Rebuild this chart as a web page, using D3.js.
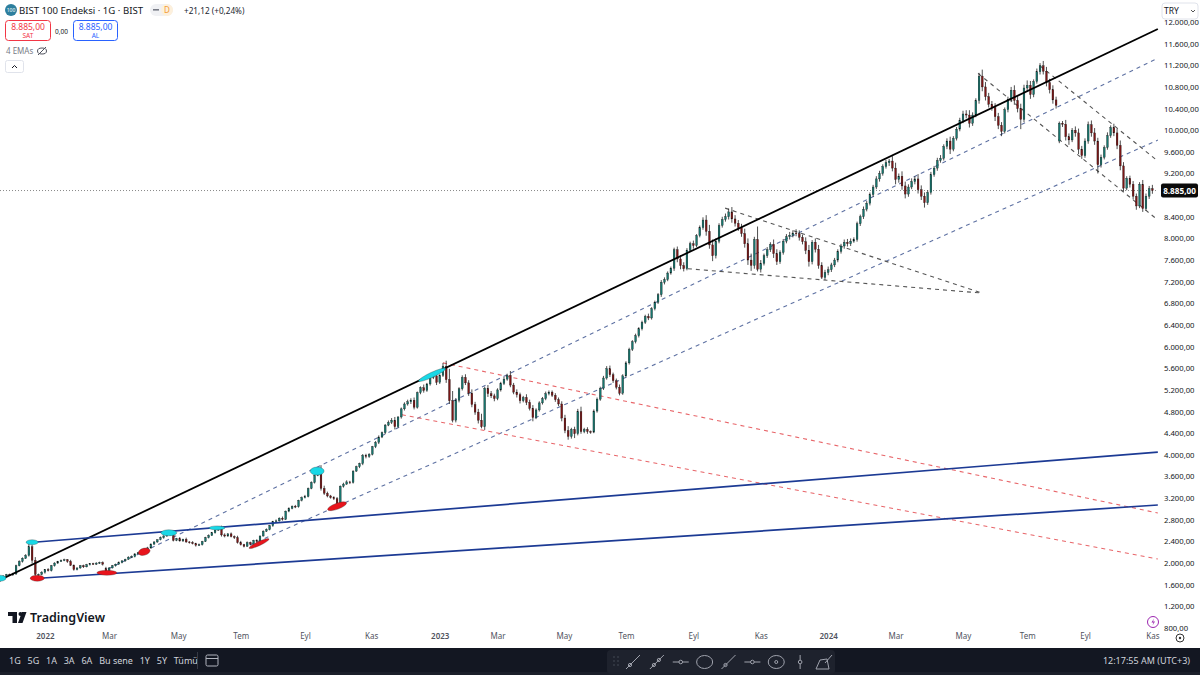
<!DOCTYPE html>
<meta charset="utf-8">
<head>
  <title>BIST 100 Endeksi</title>
  <script src="https://cdn.jsdelivr.net/npm/d3@7"></script>
</head>

<style>
body { margin: 0; background: #fff; }
svg { display: block; font-family: "Noto Sans", sans-serif; }
.axis text { font-size: 7.7px; fill: #131722; font-family: "Noto Sans", sans-serif; }
.axis path, .axis line { display: none; }
.dark { fill: #d1d4dc; font-size: 9px; }
</style>

<body>
<svg width="1200" height="675"></svg>

<script>
// one bar every 3 sessions or so
var closes = [
1700,1760,1790,1780,1800,1950,2030,2090,2140,2300,2050,1790,1790,1830,1880,1860,1950,2000,2030,2050,
2060,2030,1960,1880,1910,1950,1930,1970,1990,1980,2000,2010,1980,1840,1910,1950,1980,2010,2040,2070,
2110,2120,2170,2190,2230,2260,2280,2350,2390,2430,2470,2500,2550,2530,2420,2450,2410,2440,2390,2380,
2360,2330,2340,2400,2470,2510,2560,2610,2630,2520,2500,2540,2490,2470,2380,2340,2310,2380,2350,2420,
2400,2500,2590,2620,2690,2770,2780,2830,2810,2960,3010,3050,3040,3160,3210,3230,3380,3490,3620,3680,
3380,3290,3240,3210,3190,3090,3420,3460,3500,3490,3700,3780,3840,3990,3970,4010,4150,4230,4330,4410,
4550,4600,4640,4520,4700,4850,4940,4980,5010,4880,5150,5240,5190,5310,5430,5460,5340,5470,5640,5390,
5000,4640,5010,5220,5430,5330,5140,4930,4790,4640,4520,5230,5130,5090,5040,5200,5320,5400,5470,5290,
5160,5110,5000,5060,4970,4860,4690,4830,4960,5040,5130,5160,5100,5020,4940,4680,4450,4340,4470,4390,
4800,4430,4470,4430,4420,4810,5030,5230,5420,5590,5480,5370,5250,5140,5460,5700,5950,6090,6200,6330,
6450,6560,6530,6700,6820,6960,7190,7240,7360,7450,7790,7620,7500,7440,7780,7900,7870,8050,8200,8340,
8130,7880,7680,7950,8240,8350,8400,8490,8360,8280,8200,8090,7900,7600,7500,7980,7430,7540,7680,7790,
7890,7720,7570,7740,7950,8030,8060,8100,8090,8020,7940,7780,7570,7930,7800,7500,7280,7370,7420,7510,
7600,7760,7860,7930,7900,7950,7980,8270,8400,8540,8650,8810,8950,9100,9200,9330,9400,9430,9300,9090,
9150,8970,8820,8950,9050,9100,8900,8780,8660,8850,9180,9300,9440,9480,9700,9800,9650,9850,10020,10180,
10300,10280,10130,10280,10550,11000,10800,10620,10480,10420,10250,10090,9980,10380,10570,10740,10550,10400,10200,10780,
10830,10660,10900,11080,11190,11090,10880,10750,10560,10460,10130,10110,9880,9820,10000,9950,9650,9530,9800,10100,
9950,9800,9360,9500,9680,9900,10050,9950,9720,9340,8930,9110,9000,8780,8600,9000,8550,8780,8920,8885
];

var upperWicks = [
20,15,10,15,20,20,20,15,25,90,40,60,15,20,10,25,15,15,10,15,
20,15,30,15,10,15,20,15,10,15,15,15,20,30,15,15,10,20,15,10,
15,20,10,15,15,10,20,15,15,10,20,15,30,20,60,15,30,10,30,15,
25,15,20,10,15,20,15,10,40,60,30,15,25,20,35,30,15,20,15,10,
20,10,15,20,15,10,25,15,30,10,20,15,25,10,20,30,15,20,15,40,
130,50,30,20,25,30,15,25,30,20,15,20,15,25,30,20,15,25,30,20,
20,35,40,60,15,25,30,40,35,50,20,25,60,20,30,35,50,20,60,100,
200,180,40,30,40,60,50,70,50,60,120,30,60,50,40,30,30,40,30,80,
40,50,40,30,60,50,60,30,30,30,40,30,30,40,40,50,60,80,30,50,
50,90,30,40,20,30,30,30,40,50,60,40,40,50,30,30,30,30,40,30,
30,30,50,30,30,30,40,40,30,30,40,60,70,60,40,40,60,30,40,50,
90,120,100,50,40,50,60,60,90,70,60,70,90,100,120,50,240,60,40,50,
40,90,80,40,40,50,60,50,70,60,50,80,100,40,70,80,60,50,60,40,
40,40,40,50,60,50,40,40,40,50,40,40,40,50,50,40,50,40,90,100,
50,90,80,50,60,50,90,80,70,40,50,40,50,60,40,50,80,40,40,50,
60,70,90,50,40,60,120,90,70,60,80,70,60,40,50,60,90,80,90,60,
90,80,40,60,50,90,80,70,80,60,30,40,80,60,40,70,80,60,50,60,
80,90,60,50,40,60,40,70,80,90,70,40,50,60,50,40,80,50,50,70
];

var lowerWicks = [
30,15,20,15,15,20,10,20,15,20,60,90,30,15,25,15,15,15,15,10,
15,25,15,20,15,15,20,10,15,15,15,15,25,40,15,10,15,10,15,15,
10,15,15,10,20,15,10,15,10,15,10,20,15,25,20,15,15,20,15,20,
15,25,15,15,10,15,10,15,15,30,25,15,15,25,20,15,20,10,20,15,
30,15,10,15,15,20,10,15,25,15,20,15,25,15,20,15,15,15,20,15,
40,30,25,20,25,50,20,25,15,30,20,15,25,30,35,25,20,25,30,20,
30,20,30,50,20,30,30,30,40,40,25,30,40,25,30,30,50,30,30,60,
60,40,40,40,30,40,50,50,50,60,30,60,60,40,50,30,30,30,30,40,
40,50,50,30,50,40,70,30,30,30,30,30,30,40,40,60,50,60,40,80,
30,40,30,40,30,20,30,30,30,30,40,40,40,40,30,30,30,30,30,30,
30,30,40,30,30,30,40,40,30,30,50,60,70,50,30,30,60,30,30,40,
80,70,100,50,40,40,40,50,70,60,60,60,70,90,100,60,40,60,40,40,
40,80,60,40,40,40,50,40,50,60,50,70,90,50,60,60,30,50,50,40,
40,40,40,50,50,40,30,40,40,40,40,40,40,40,50,40,40,60,60,90,
60,70,80,50,40,50,70,70,90,40,40,40,50,40,40,50,90,40,40,40,
50,60,80,50,40,60,80,70,60,60,80,70,90,40,50,50,80,70,180,50,
70,80,50,40,50,60,70,70,70,60,40,50,70,90,40,70,90,60,40,50,
70,70,160,50,40,40,40,60,70,80,60,40,60,60,70,40,60,40,50,60
];

// bars that open away from the previous close
var gapBars = [33, 330];
var gapOpens = [1900, 9800];

var monthBars = [14,34,55.5,75,95,115.6,137,155,175.7,195,216,237,258,279,300,320,338,359];
var monthLabels = ["2022","Mar","May","Tem","Eyl","Kas","2023","Mar","May","Tem","Eyl","Kas","2024","Mar","May","Tem","Eyl","Kas"];
var yearLabels = ["2022","2023","2024"];

// 8.800,00 sits behind the last price tag in the picture
var priceTicks = d3.range(800, 12001, 400).filter(function(p) { return p != 8800; });
var lastPrice = 8885;

// trend lines: bar, price, bar, price
var blackLine = [[0,1687,360.7,11870]];
var navyLines = [[11.5,2389,360.7,4052],[13.4,1724,360.7,3073]];
var blueDashed = [[33.6,1890,360.7,11330],[77.9,2334,360.7,9818]];
var redDashed = [[138,5700,360.7,2925],[125.2,4740,360.7,2075]];
var greyDashed = [[225.9,8560,305.9,6990],[214.3,7440,305.9,6990],[304.7,11050,360.7,8340],[324,11190,360.7,9430]];

var cyanMarks = [[0,1720,6,3,0],[10,2385,6,2.5,0],[52.6,2560,8,3,0],[67.6,2650,8,2,0],[98.8,3700,7,4,0],[134.6,5480,15,2.5,-25]];
var redMarks = [[11.6,1720,7,3,0],[33.3,1820,10,2.5,0],[44.9,2210,6,3.5,-15],[80.7,2360,11,2,-25],[105,3050,10,3,-20]];

var rangeButtons = ["1G","5G","1A","3A","6A","Bu sene","1Y","5Y","Tümü"];

var svg = d3.select("svg");
var x = d3.scaleLinear().domain([0, 360]).range([0, 1155.6]);
var y = d3.scaleLinear().domain([800, 12000]).range([628, 22]);

var tr = d3.formatLocale({ decimal: ",", thousands: ".", grouping: [3], currency: ["", ""] });
var fmt = tr.format(",.2f");

var bars = closes.map(function(c, i) {
  var g = gapBars.indexOf(i);
  var o = g >= 0 ? gapOpens[g] : (i == 0 ? c - 20 : closes[i - 1]);
  return {
    i: i, open: o, close: c,
    high: Math.max(o, c) + upperWicks[i],
    low: Math.min(o, c) - lowerWicks[i]
  };
});

// last price dotted line
svg.append("line")
  .attr("x1", 0).attr("x2", 1158)
  .attr("y1", y(lastPrice)).attr("y2", y(lastPrice))
  .attr("stroke", "#555").attr("stroke-width", 0.7).attr("stroke-dasharray", "1 2");

function drawLines(list, color, width, dash) {
  svg.append("g").selectAll("line").data(list).enter().append("line")
    .attr("x1", function(d) { return x(d[0]); })
    .attr("y1", function(d) { return y(d[1]); })
    .attr("x2", function(d) { return x(d[2]); })
    .attr("y2", function(d) { return y(d[3]); })
    .attr("stroke", color)
    .attr("stroke-width", width)
    .attr("stroke-dasharray", dash);
}

drawLines(blueDashed, "#5f72a3", 1.1, "4 4");
drawLines(redDashed, "#e8666a", 1.1, "4 4");
drawLines(greyDashed, "#555", 1.1, "4 4");

// candles
var candle = svg.append("g").selectAll("g").data(bars).enter().append("g");
candle.append("line")
  .attr("x1", function(d) { return x(d.i); })
  .attr("x2", function(d) { return x(d.i); })
  .attr("y1", function(d) { return y(d.high); })
  .attr("y2", function(d) { return y(d.low); })
  .attr("stroke", "#222").attr("stroke-width", 0.8);
candle.append("rect")
  .attr("x", function(d) { return x(d.i) - 0.9; })
  .attr("width", 1.8)
  .attr("y", function(d) { return y(Math.max(d.open, d.close)); })
  .attr("height", function(d) { return Math.max(0.8, Math.abs(y(d.open) - y(d.close))); })
  .attr("fill", function(d) { return d.close >= d.open ? "#17766e" : "#7a1616"; })
  .attr("stroke", "#111").attr("stroke-width", 0.3);

drawLines(blackLine, "#000", 1.8, null);
drawLines(navyLines, "#1c3a94", 1.7, null);

function drawMarks(list, color) {
  svg.append("g").selectAll("ellipse").data(list).enter().append("ellipse")
    .attr("rx", function(d) { return d[2]; })
    .attr("ry", function(d) { return d[3]; })
    .attr("transform", function(d) { return "translate(" + x(d[0]) + "," + y(d[1]) + ") rotate(" + d[4] + ")"; })
    .attr("fill", color).attr("stroke", "#333").attr("stroke-width", 0.3);
}
drawMarks(cyanMarks, "#19d8e6");
drawMarks(redMarks, "#e8141c");

// axes
svg.append("g").attr("class", "axis")
  .attr("transform", "translate(1158,0)")
  .call(d3.axisRight(y).tickValues(priceTicks).tickSize(0).tickPadding(6).tickFormat(fmt));

var xAxis = svg.append("g").attr("class", "axis")
  .attr("transform", "translate(0,633)")
  .call(d3.axisBottom(x).tickValues(monthBars).tickSize(0).tickPadding(0)
    .tickFormat(function(d, i) { return monthLabels[i]; }));
xAxis.selectAll("text")
  .style("font-size", "8px")
  .style("fill", "#50535e")
  .style("font-weight", function(d, i) { return yearLabels.indexOf(monthLabels[i]) >= 0 ? 600 : 400; });

// last price tag
svg.append("rect").attr("x", 1161).attr("y", y(lastPrice) - 7).attr("width", 37).attr("height", 14)
  .attr("rx", 2).attr("fill", "#0a0a0a");
svg.append("text").attr("x", 1179.5).attr("y", y(lastPrice) + 3).attr("text-anchor", "middle")
  .attr("font-size", 8.2).attr("font-weight", 700).attr("fill", "#fff").text(fmt(lastPrice));

// currency button
svg.append("rect").attr("x", 1162).attr("y", 3).attr("width", 36).attr("height", 16).attr("rx", 3)
  .attr("fill", "#fff").attr("stroke", "#e0e3eb");
svg.append("text").attr("x", 1164).attr("y", 14).attr("font-size", 8.5).attr("fill", "#131722").text("TRY");
svg.append("path").attr("d", "M1191 10l2 2 2-2").attr("fill", "none").attr("stroke", "#555");

// header
svg.append("circle").attr("cx", 11).attr("cy", 10).attr("r", 6).attr("fill", "#2d7f9e");
svg.append("text").attr("x", 11).attr("y", 12).attr("text-anchor", "middle").attr("font-size", 5).attr("fill", "#fff").text("100");
svg.append("text").attr("x", 19).attr("y", 14).attr("font-size", 9.6).attr("fill", "#131722").text("BIST 100 Endeksi · 1G · BIST");
svg.append("rect").attr("x", 150).attr("y", 4).attr("width", 23).attr("height", 12).attr("rx", 6).attr("fill", "#f0f1f4");
svg.append("rect").attr("x", 153).attr("y", 9).attr("width", 6).attr("height", 1.6).attr("fill", "#787b86");
svg.append("circle").attr("cx", 167).attr("cy", 10).attr("r", 6).attr("fill", "#fdf0dc");
svg.append("text").attr("x", 167).attr("y", 13).attr("text-anchor", "middle").attr("font-size", 8).attr("fill", "#f29d38").text("D");
svg.append("text").attr("x", 184).attr("y", 13.5).attr("font-size", 8.2).attr("fill", "#22262f").text("+21,12 (+0,24%)");

svg.append("rect").attr("x", 5.5).attr("y", 20.5).attr("width", 45).attr("height", 20).attr("rx", 3)
  .attr("fill", "#fff").attr("stroke", "#f23645");
svg.append("text").attr("x", 28).attr("y", 30).attr("text-anchor", "middle").attr("font-size", 8.5).attr("fill", "#f23645").text("8.885,00");
svg.append("text").attr("x", 28).attr("y", 38).attr("text-anchor", "middle").attr("font-size", 6.5).attr("fill", "#f23645").text("SAT");
svg.append("text").attr("x", 61.5).attr("y", 33.5).attr("text-anchor", "middle").attr("font-size", 6.5).attr("fill", "#131722").text("0,00");
svg.append("rect").attr("x", 73.5).attr("y", 20.5).attr("width", 44).attr("height", 20).attr("rx", 3)
  .attr("fill", "#fff").attr("stroke", "#2962ff");
svg.append("text").attr("x", 95.5).attr("y", 30).attr("text-anchor", "middle").attr("font-size", 8.5).attr("fill", "#2962ff").text("8.885,00");
svg.append("text").attr("x", 95.5).attr("y", 38).attr("text-anchor", "middle").attr("font-size", 6.5).attr("fill", "#2962ff").text("AL");

svg.append("text").attr("x", 6).attr("y", 54).attr("font-size", 8).attr("fill", "#787b86").text("4 EMAs");
svg.append("ellipse").attr("cx", 42).attr("cy", 51).attr("rx", 4.5).attr("ry", 3)
  .attr("fill", "none").attr("stroke", "#50535e");
svg.append("line").attr("x1", 38).attr("y1", 55).attr("x2", 46).attr("y2", 47).attr("stroke", "#50535e");
svg.append("rect").attr("x", 5.5).attr("y", 60.5).attr("width", 18).attr("height", 12).attr("rx", 2)
  .attr("fill", "#fff").attr("stroke", "#e0e3eb");
svg.append("path").attr("d", "M12 68l2.5-2.5 2.5 2.5").attr("fill", "none").attr("stroke", "#131722");

// watermark
svg.append("path").attr("d", "M8 612h9v11h-4.5v-7h-4.5z M18 623l4-11h4.5l-4 11z").attr("fill", "#131722");
svg.append("circle").attr("cx", 20.5).attr("cy", 614).attr("r", 2).attr("fill", "#131722");
svg.append("text").attr("x", 30).attr("y", 622).attr("font-size", 12.5).attr("font-weight", 600)
  .attr("fill", "#131722").text("TradingView");

// small icons next to the axis
svg.append("circle").attr("cx", 1153).attr("cy", 622).attr("r", 5.5).attr("fill", "#fff").attr("stroke", "#9c27b0");
svg.append("path").attr("d", "M1154 618.5l-2.5 4h2l-1 3 2.5-4h-2z").attr("fill", "#9c27b0");
svg.append("circle").attr("cx", 1180).attr("cy", 638).attr("r", 4).attr("fill", "none").attr("stroke", "#333");
svg.append("circle").attr("cx", 1180).attr("cy", 638).attr("r", 1.2).attr("fill", "#333");

// bottom bar
svg.append("rect").attr("x", 0).attr("y", 648).attr("width", 1200).attr("height", 27).attr("fill", "#131722");
svg.append("rect").attr("x", 0).attr("y", 672).attr("width", 1200).attr("height", 3).attr("fill", "#1b1f2a");

svg.append("g").selectAll("text").data(rangeButtons).enter().append("text")
  .attr("class", "dark")
  .attr("y", 664)
  .text(function(d) { return d; });
var cursor = 9;
svg.selectAll("text.dark").attr("x", function() {
  var here = cursor;
  cursor += this.getComputedTextLength() + 6.8;
  return here;
});

svg.append("line").attr("x1", 197.5).attr("x2", 197.5).attr("y1", 652).attr("y2", 669).attr("stroke", "#363a45");
svg.append("rect").attr("x", 206).attr("y", 655).attr("width", 12).attr("height", 11).attr("rx", 1.5)
  .attr("fill", "none").attr("stroke", "#b2b5be");
svg.append("line").attr("x1", 206).attr("x2", 218).attr("y1", 658.5).attr("y2", 658.5).attr("stroke", "#b2b5be");

// drawing toolbar
svg.append("rect").attr("x", 607).attr("y", 650).attr("width", 228).attr("height", 24).attr("rx", 4).attr("fill", "#1e222d");
var iconX = d3.scaleLinear().domain([0, 8]).range([633, 824]);
var icons = d3.range(9);
var iconG = svg.append("g").selectAll("g").data(icons).enter().append("g")
  .attr("transform", function(d) { return "translate(" + iconX(d) + ",662)"; })
  .attr("fill", "none").attr("stroke", "#a0a3ad");
iconG.filter(function(d) { return [0, 1, 4].indexOf(d) >= 0; }).append("path").attr("d", "M-7 7L7 -7");
iconG.filter(function(d) { return [0, 1, 4].indexOf(d) >= 0; }).append("circle").attr("r", 1.6).attr("cx", -3).attr("cy", 3);
iconG.filter(function(d) { return d == 1; }).append("circle").attr("r", 1.6).attr("cx", 2).attr("cy", -2);
iconG.filter(function(d) { return d == 2 || d == 5; }).append("path").attr("d", "M-8 0H8");
iconG.filter(function(d) { return d == 2 || d == 5; }).append("circle").attr("r", 1.8).attr("fill", "#1e222d");
iconG.filter(function(d) { return d == 3 || d == 6; }).append("ellipse").attr("rx", 8).attr("ry", 6.5);
iconG.filter(function(d) { return d == 6; }).append("circle").attr("r", 1.5);
iconG.filter(function(d) { return d == 7; }).append("path").attr("d", "M0 -7V7");
iconG.filter(function(d) { return d == 7; }).append("circle").attr("r", 1.8).attr("fill", "#1e222d");
iconG.filter(function(d) { return d == 8; }).append("path").attr("d", "M-8 7L-4 -2L3 -3L5 7Z M1 1L8 -7");
var gripX = [614, 618];
var gripY = [657, 661, 665];
gripX.forEach(function(gx) {
  gripY.forEach(function(gy) {
    svg.append("circle").attr("cx", gx).attr("cy", gy).attr("r", 0.8).attr("fill", "#4a4e5a");
  });
});

svg.append("text").attr("x", 1190).attr("y", 664).attr("text-anchor", "end")
  .attr("font-size", 9).attr("fill", "#d1d4dc").text("12:17:55 AM (UTC+3)");
</script>
</body>
</html>
